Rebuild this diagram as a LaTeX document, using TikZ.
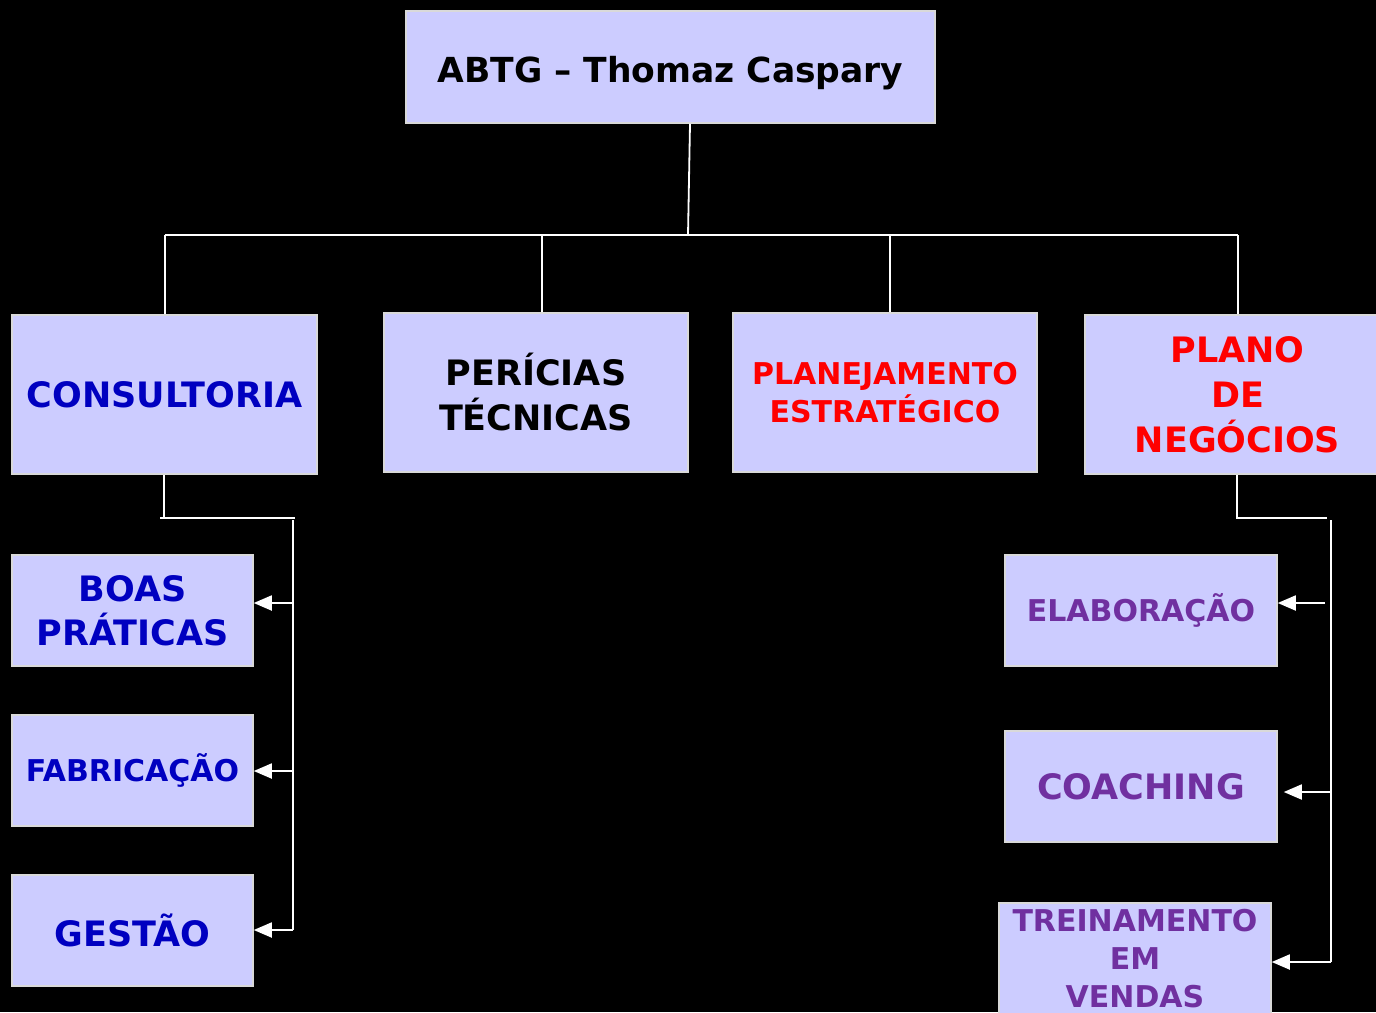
\documentclass[tikz,border=0pt]{standalone}
\usepackage{fontspec}
\setmainfont{DejaVu Sans}
\usetikzlibrary{arrows.meta}
\definecolor{boxfill}{HTML}{CCCCFF}
\definecolor{boxline}{HTML}{D9D9D9}
\definecolor{tblue}{HTML}{0000C0}
\definecolor{tred}{HTML}{FF0000}
\definecolor{tpurple}{HTML}{7030A0}
\newcommand{\fs}[2]{\fontsize{#1}{#2}\selectfont\bfseries}
\tikzset{
  box/.style={draw=boxline, line width=1.5pt, fill=boxfill, inner sep=0pt, align=center},
  wire/.style={draw=white, line width=1.8pt},
  arr/.style={wire, -{Triangle[length=18pt,width=15pt]}},
}
\begin{document}
\begin{tikzpicture}[x=1pt,y=-1pt]
\fill[black] (0,0) rectangle (1376,1012);
\useasboundingbox (0,0) rectangle (1376,1012);

\node[box, minimum width=529, minimum height=112, font={\fs{34.5}{40}}, text depth=0pt] (top) at (670.5,67) {\raisebox{-5pt}{ABTG – Thomaz Caspary}};

\node[box, minimum width=305, minimum height=159, text=tblue, font={\fs{35}{40}}] (cons) at (164.5,394.5) {CONSULTORIA};
\node[box, minimum width=304, minimum height=159, font={\fs{35}{45}}] (peri) at (536,392.5) {PERÍCIAS\\TÉCNICAS};
\node[box, minimum width=304, minimum height=159, text=tred, font={\fs{30}{38}}] (plan) at (885,392.5) {PLANEJAMENTO\\ESTRATÉGICO};
\node[box, minimum width=305, minimum height=159, text=tred, font={\fs{35}{45}}] (pneg) at (1237.5,394.5) {PLANO\\DE\\NEGÓCIOS};

\node[box, minimum width=241, minimum height=111, text=tblue, font={\fs{35}{44}}] (boas) at (132.5,610.5) {BOAS\\PRÁTICAS};
\node[box, minimum width=241, minimum height=111, text=tblue, font={\fs{30}{36}}] (fabr) at (132.5,770.5) {FABRICAÇÃO};
\node[box, minimum width=241, minimum height=111, text=tblue, font={\fs{35}{40}}] (gest) at (132.5,930.5) {GESTÃO};

\node[box, minimum width=272, minimum height=111, text=tpurple, font={\fs{30}{36}}] (elab) at (1141,610.5) {ELABORAÇÃO};
\node[box, minimum width=272, minimum height=111, text=tpurple, font={\fs{35}{40}}] (coach) at (1141,786.5) {COACHING};
\node[box, minimum width=272, minimum height=111, text=tpurple, font={\fs{30}{38}}] (trei) at (1135,958.5) {TREINAMENTO\\EM\\VENDAS};

% top tree
\coordinate (hl) at (165,235);
\coordinate (hr) at (1238,235);
\draw[wire] (top.south) ++(19.5,0) -- (688,235);
\draw[wire] (hl) -- (hr);
\draw[wire] (hl) -- (cons.north -| hl);
\draw[wire] (542,235) -- (peri.north -| 542,0);
\draw[wire] (890,235) -- (plan.north -| 890,0);
\draw[wire] (hr) -- (pneg.north -| hr);

% left branch
\coordinate (lj) at (164,518);
\draw[wire] (cons.south -| lj) -- (lj);
\draw[wire] (160,518) -- (295,518);
\draw[wire] (293,520) -- (293,930);
\draw[arr] (293,603) -- (boas.east |- 0,603);
\draw[arr] (293,771) -- (fabr.east |- 0,771);
\draw[arr] (293,930) -- (gest.east |- 0,930);

% right branch
\coordinate (rj) at (1237,518);
\draw[wire] (pneg.south -| rj) -- (rj) -- (1327,518);
\draw[wire] (1331,520) -- (1331,962);
\draw[arr] (1325,603) -- (elab.east |- 0,603);
\draw[arr] (1331,792) -- ([xshift=6pt]coach.east |- 0,792);
\draw[arr] (1331,962) -- (trei.east |- 0,962);
\end{tikzpicture}
\end{document}
